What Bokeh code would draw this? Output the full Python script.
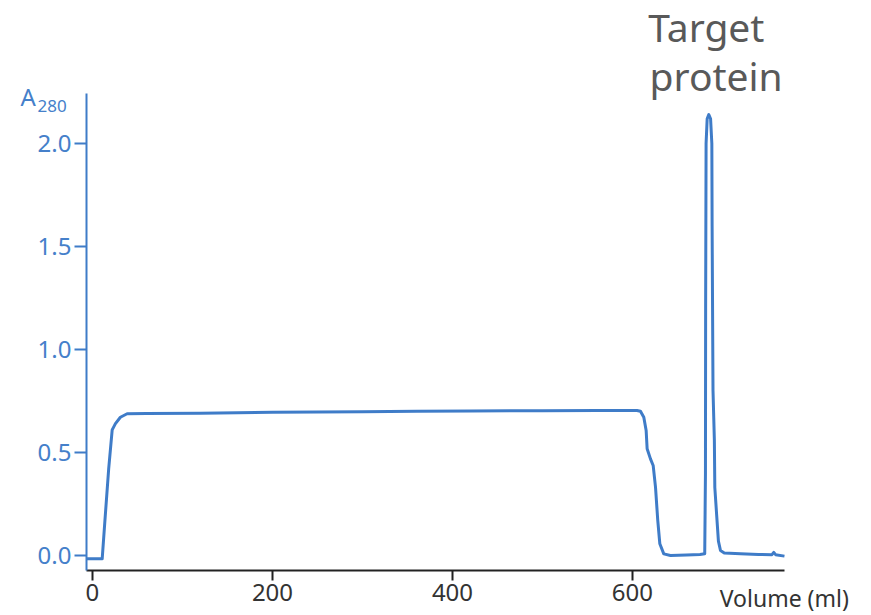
from bokeh.plotting import figure
from bokeh.models import Range1d, FixedTicker, Label
from bokeh.embed import file_html
from bokeh.resources import INLINE

# Chromatogram trace: volume (ml) vs absorbance A280
volume = [-6.5, 5, 10.8, 14, 18, 21.9, 25.5, 31, 38.5, 60, 120, 200, 300, 360, 420,
          500, 560, 605, 608.9, 612.6, 615.2, 616.3, 620, 623, 625.6, 628.1,
          630.4, 634.8, 642.2, 660, 675, 680.3, 681.1, 681.3, 681.8, 683, 684.8,
          686.8, 688.2, 688.5, 689.5, 691, 691.5, 693.5, 695.5, 697.8, 702, 720,
          740, 755, 757, 759, 768.9]
absorbance = [-0.016, -0.016, -0.016, 0.18, 0.42, 0.61, 0.64, 0.671, 0.688, 0.689,
              0.691, 0.695, 0.698, 0.700, 0.701, 0.703, 0.704, 0.704, 0.700, 0.671,
              0.607, 0.518, 0.469, 0.437, 0.332, 0.17, 0.057, 0.008, 0.0, 0.002,
              0.005, 0.008, 0.4, 1.2, 2.0, 2.12, 2.14, 2.12, 2.0, 1.6, 0.8, 0.56,
              0.33, 0.2, 0.07, 0.024, 0.012, 0.008, 0.005, 0.004, 0.015, 0.004,
              -0.003]

y_ticks = [0.0, 0.5, 1.0, 1.5, 2.0]
y_tick_labels = ["0.0", "0.5", "1.0", "1.5", "2.0"]
x_ticks = [0, 200, 400, 600]
x_tick_labels = ["0", "200", "400", "600"]

BLUE = "#3f7cc8"
LBLUE = "#4580ca"
FONT = "Noto Sans"
X_MIN, X_AXIS_END = -6.67, 768.9
Y_MIN, Y_AXIS_END = -0.0728, 2.243

# the frame fills the whole canvas; axes sit at fixed data locations
p = figure(width=871, height=615, output_backend="svg", toolbar_location=None,
           x_range=Range1d(-102.2, 865.6), y_range=Range1d(-0.2913, 2.694),
           min_border_left=0, min_border_right=0, min_border_top=0,
           min_border_bottom=0)
p.title.visible = False
p.outline_line_color = None
p.xgrid.visible = False
p.ygrid.visible = False
p.background_fill_color = "white"
p.border_fill_color = "white"

p.line(volume, absorbance, line_color=BLUE, line_width=3, line_join="round")

ya = p.yaxis[0]
ya.fixed_location = X_MIN
ya.bounds = (Y_MIN, Y_AXIS_END)
ya.ticker = FixedTicker(ticks=y_ticks)
ya.major_label_overrides = {t: l for t, l in zip(y_ticks, y_tick_labels)}
ya.axis_line_color = BLUE
ya.axis_line_width = 2
ya.major_tick_line_color = BLUE
ya.major_tick_line_width = 2
ya.major_tick_out = 12
ya.major_tick_in = 0
ya.minor_tick_line_color = None
ya.major_label_text_color = LBLUE
ya.major_label_text_font = FONT
ya.major_label_text_font_size = "24px"
ya.major_label_standoff = 3

xa = p.xaxis[0]
xa.fixed_location = Y_MIN
xa.bounds = (X_MIN, X_AXIS_END)
xa.ticker = FixedTicker(ticks=x_ticks)
xa.major_label_overrides = {t: l for t, l in zip(x_ticks, x_tick_labels)}
xa.axis_line_color = "#222222"
xa.axis_line_width = 2
xa.major_tick_line_color = "#222222"
xa.major_tick_line_width = 2
xa.major_tick_out = 10
xa.major_tick_in = 0
xa.minor_tick_line_color = None
xa.major_label_text_color = "#333333"
xa.major_label_text_font = FONT
xa.major_label_text_font_size = "24px"
xa.major_label_standoff = 4

# axis titles and peak annotation
p.add_layout(Label(x=-80, y=2.228, text="A", text_color=LBLUE, text_font=FONT,
                   text_font_size="24px", text_baseline="alphabetic"))
p.add_layout(Label(x=-61, y=2.182, text="280", text_color=LBLUE, text_font=FONT,
                   text_font_size="17px", text_baseline="alphabetic"))
p.add_layout(Label(x=697.0, y=-0.206, text="Volume (ml)", text_color="#333333",
                   text_font=FONT, text_font_size="23px", text_baseline="alphabetic"))
p.add_layout(Label(x=617.5, y=2.566, text="Target", text_color="#595959",
                   text_font=FONT, text_font_size="39px", text_baseline="alphabetic"))
p.add_layout(Label(x=619.0, y=2.330, text="protein", text_color="#595959",
                   text_font=FONT, text_font_size="39px", text_baseline="alphabetic"))

open("out.html", "w").write(file_html(p, INLINE))
